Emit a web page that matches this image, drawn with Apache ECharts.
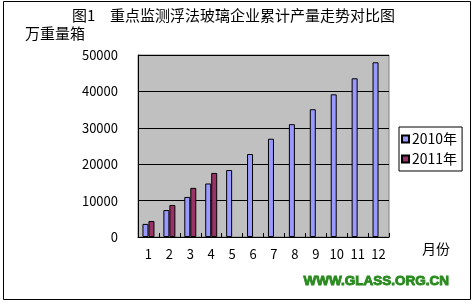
<!DOCTYPE html>
<html><head><meta charset="utf-8">
<script src="https://cdn.jsdelivr.net/npm/echarts@6/dist/echarts.min.js"></script>
<style>html,body{margin:0;padding:0;background:#fff}#c{width:474px;height:304px}</style>
</head><body><div id="c"></div>
<script>
const months = ['1','2','3','4','5','6','7','8','9','10','11','12'];
const s2010 = [3600, 7400, 11000, 14700, 18400, 22800, 27000, 31000, 35100, 39200, 43600, 48000];
const s2011 = [4400, 8800, 13500, 17600];
const seriesNames = ['2010年', '2011年'];
const yTicks = {min: 0, max: 50000, interval: 10000};
const FONT = '"Noto Sans CJK SC", sans-serif';
const chart = echarts.init(document.getElementById('c'), null, {renderer: 'canvas'});
chart.setOption({
  animation: false,
  backgroundColor: '#fff',
  textStyle: {fontFamily: FONT, color: '#000'},
  grid: {left: 138, top: 55, right: 85, bottom: 67, show: true, backgroundColor: '#C0C0C0', borderColor: '#808080', borderWidth: 1},
  legend: {
    orient: 'vertical', left: 399, top: 127, width: 60,
    itemWidth: 7, itemHeight: 7, itemGap: 6,
    padding: [5, 5, 5, 2],
    borderColor: '#000', borderWidth: 1,
    textStyle: {fontSize: 14, color: '#000', fontFamily: FONT, padding: [0, 0, 0, -2]},
    icon: 'rect',
    data: seriesNames
  },
  xAxis: {
    type: 'category', data: months,
    axisLine: {lineStyle: {color: '#000', width: 1}},
    axisTick: {show: true, inside: true, length: 4, lineStyle: {color: '#000'}},
    axisLabel: {color: '#000', fontSize: 13, margin: 11, fontFamily: FONT}
  },
  yAxis: {
    type: 'value', min: yTicks.min, max: yTicks.max, interval: yTicks.interval,
    axisLine: {show: true, lineStyle: {color: '#000', width: 1}},
    axisTick: {show: false},
    splitLine: {lineStyle: {color: '#000', width: 1}},
    axisLabel: {color: '#000', fontSize: 13, margin: 20, fontFamily: FONT, formatter: v => String(v)}
  },
  series: [
    {name: seriesNames[0], type: 'bar', data: s2010, barWidth: 6, barGap: '0%',
     itemStyle: {color: '#9999FF', borderColor: '#000', borderWidth: 1}},
    {name: seriesNames[1], type: 'bar', data: s2011, barWidth: 6, barGap: '0%',
     itemStyle: {color: '#993366', borderColor: '#000', borderWidth: 1}}
  ],
  graphic: [
    {type: 'rect', shape: {x: 3.5, y: 1.5, width: 467, height: 298}, style: {fill: 'none', stroke: '#000', lineWidth: 1}, silent: true, z: -1},
    {type: 'text', left: 72, top: 8, style: {text: '图1', fontSize: 15, fill: '#000', fontFamily: FONT}},
    {type: 'text', left: 110, top: 8, style: {text: '重点监测浮法玻璃企业累计产量走势对比图', fontSize: 15, fill: '#000', fontFamily: FONT}},
    {type: 'text', left: 25, top: 26, style: {text: '万重量箱', fontSize: 15, fill: '#000', fontFamily: FONT}},
    {type: 'text', left: 422, top: 242, style: {text: '月份', fontSize: 14, fill: '#000', fontFamily: FONT}},
    {type: 'text', left: 303, top: 274, style: {text: 'WWW.GLASS.ORG.CN', fontSize: 13.5, fontWeight: 'bold', fill: '#2A8A1F', stroke: '#2A8A1F', lineWidth: 0.9, fontFamily: '"Liberation Sans", Arial, sans-serif'}}
  ]
});
</script></body></html>
